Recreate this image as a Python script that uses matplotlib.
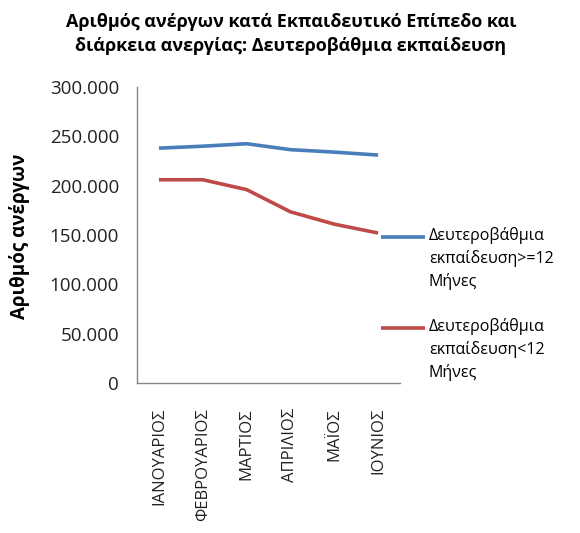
import matplotlib.pyplot as plt
from matplotlib.lines import Line2D

plt.rcParams['font.family'] = ['Open Sans', 'DejaVu Sans']

months = ['ΙΑΝΟΥΑΡΙΟΣ', 'ΦΕΒΡΟΥΑΡΙΟΣ', 'ΜΑΡΤΙΟΣ', 'ΑΠΡΙΛΙΟΣ', 'ΜΑΪΟΣ', 'ΙΟΥΝΙΟΣ']
long_term = [238000, 240000, 242500, 236500, 234000, 231000]
short_term = [206000, 206000, 196000, 173500, 161000, 152000]
labels = ['Δευτεροβάθμια\nεκπαίδευση>=12\nΜήνες',
          'Δευτεροβάθμια\nεκπαίδευση<12\nΜήνες']
colors = ['#4A7EBB', '#BE4B48']
yticks = [0, 50000, 100000, 150000, 200000, 250000, 300000]

W, H = 580, 533
fig = plt.figure(figsize=(5.8, 5.33), dpi=100)
ax = fig.add_axes([137 / W, 1 - 383 / H, (400 - 137) / W, (383 - 87) / H])

x = range(len(months))
ax.plot(x, long_term, color=colors[0], lw=2.6, solid_capstyle='butt')
ax.plot(x, short_term, color=colors[1], lw=2.6, solid_capstyle='butt')

ax.set_xlim(-0.5, len(months) - 0.5)
ax.set_ylim(0, 300000)
ax.set_yticks(yticks)
ax.set_yticklabels([f'{v:,}'.replace(',', '.') for v in yticks], fontsize=13.5)
ax.set_xticks(list(x))
ax.set_xticklabels(months, rotation=90, fontsize=12, va='top')
ax.tick_params(length=0, pad=13, colors='#222222')
ax.tick_params(axis='x', pad=18)
for side in ['top', 'right']:
    ax.spines[side].set_visible(False)
for side in ['left', 'bottom']:
    ax.spines[side].set_color('#868686')
    ax.spines[side].set_linewidth(1)

fig.text(20 / W, 1 - 236 / H, 'Αριθμός ανέργων', rotation=90, fontsize=13.5,
         fontweight='bold', ha='center', va='center')

fig.text(291 / W, 1 - 34 / H,
         'Αριθμός ανέργων κατά Εκπαιδευτικό Επίπεδο και\nδιάρκεια ανεργίας: Δευτεροβάθμια εκπαίδευση',
         fontsize=13, fontweight='bold', ha='center', va='center', linespacing=1.45)

# legend on the right, line aligned with the first text row
for i, (lab, c) in enumerate(zip(labels, colors)):
    y0 = 237 + i * 91
    fig.add_artist(Line2D([381 / W, 425 / W], [1 - y0 / H, 1 - y0 / H],
                          color=c, lw=2.6, solid_capstyle='butt'))
    fig.text(429 / W, 1 - (y0 - 10) / H, lab, fontsize=11.5, ha='left', va='top',
             linespacing=1.45)

fig.savefig('out.png', dpi=100)
